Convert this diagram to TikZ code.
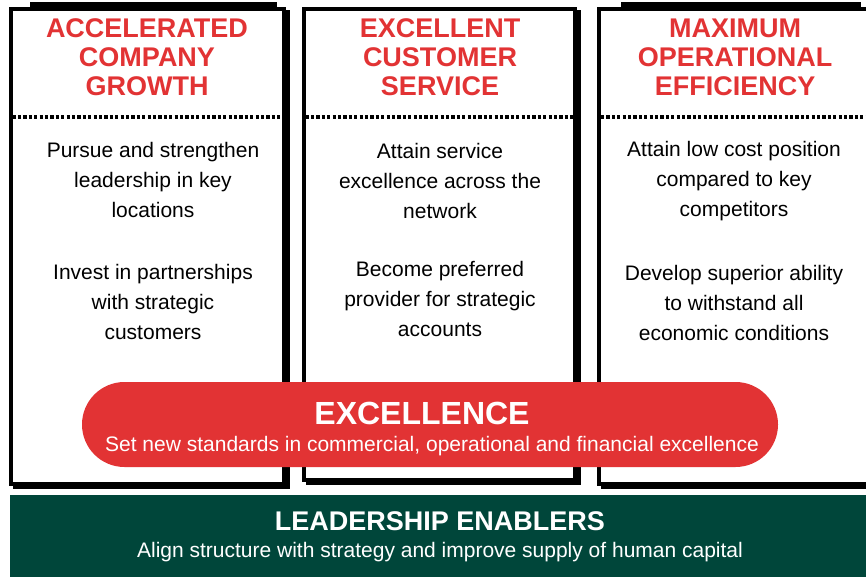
\documentclass[tikz,border=0pt]{standalone}
\usepackage{fontspec}
\setmainfont{Liberation Sans}
\usepackage{tikz}
\usetikzlibrary{shapes.misc}
\definecolor{pillarred}{HTML}{E23334}
\definecolor{enablergreen}{HTML}{00463A}
\tikzset{
  pillarframe/.style={draw=black, fill=white, line width=4pt},
  pillarshadow/.style={draw=black, fill=black, line width=4pt},
  pillardots/.style={black, line width=3.5pt, dash pattern=on 3.2pt off 2.2pt},
  pillartitle/.style={pillarred, align=center, font=\fontsize{27}{29}\selectfont\bfseries},
  pillartext/.style={black, align=center, font=\fontsize{21}{30}\selectfont},
}

\begin{document}
\begin{tikzpicture}[x=1pt, y=-1pt]
  \useasboundingbox (0,0) rectangle (866,577);
  \clip (0,0) rectangle (866,577);

  % Pillar frames with drop shadow and dotted divider
  \foreach \xa/\xb/\yb in {10.5/284/483.5, 303.5/575/480, 599/900/484} {
    \draw[pillarshadow] (\xa+4, 12) rectangle (\xb+4, \yb+3);
    \draw[pillarframe] (\xa, 9.5) rectangle (\xb, \yb);
    \draw[pillardots] (\xa+2, 117) -- (\xb-2, 117);
  }
  % Heavier top edges on the outer pillars
  \fill (30,2) rectangle (277,8);
  \fill (621,2) rectangle (861,8);

  % Pillar headings
  \node[pillartitle] (growth) at (147,57) {ACCELERATED\\COMPANY\\GROWTH};
  \node[pillartitle] (service) at (440,57) {EXCELLENT\\CUSTOMER\\SERVICE};
  \node[pillartitle] (efficiency) at (735,57) {MAXIMUM\\OPERATIONAL\\EFFICIENCY};

  % Pillar goals
  \node[pillartext] (growthA) at (153,180) {Pursue and strengthen\\leadership in key\\locations};
  \node[pillartext] (growthB) at (153,302) {Invest in partnerships\\with strategic\\customers};
  \node[pillartext] (serviceA) at (440,181) {Attain service\\excellence across the\\network};
  \node[pillartext] (serviceB) at (440,299) {Become preferred\\provider for strategic\\accounts};
  \node[pillartext] (efficiencyA) at (734,181) {Attain low cost position\\compared to key\\competitors};
  \node[pillartext] (efficiencyB) at (734,303) {Develop superior ability\\to withstand all\\economic conditions};

  % Excellence pill across the pillars
  \node[rounded rectangle, fill=pillarred, minimum width=696pt, minimum height=85pt, inner sep=0pt] (excellence) at (430,424.5) {};
  \node[white, font=\fontsize{32}{32}\selectfont\bfseries] (excelhead) at (422,413) {EXCELLENCE};
  \node[white, font=\fontsize{21}{21}\selectfont] (excelsub) at (432,446) {Set new standards in commercial, operational and financial excellence};

  % Foundation bar
  \node[fill=enablergreen, minimum width=856pt, minimum height=82pt, inner sep=0pt, anchor=north west] (enablers) at (10,495) {};
  \node[white, font=\fontsize{27}{27}\selectfont\bfseries] (enablehead) at (440,521) {LEADERSHIP ENABLERS};
  \node[white, font=\fontsize{21}{21}\selectfont] (enablesub) at (440,552) {Align structure with strategy and improve supply of human capital};
\end{tikzpicture}
\end{document}
